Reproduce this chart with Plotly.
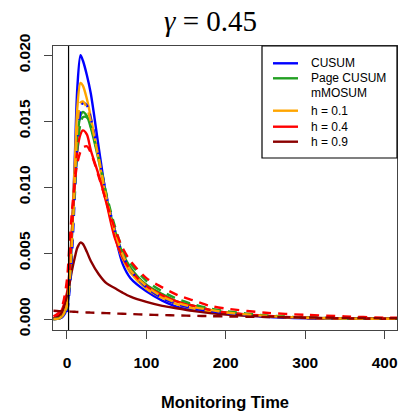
import plotly.graph_objects as go

# ---------------- data ----------------
x_pts = [-17, -10, -5, 0, 3, 6, 10, 13, 17, 20, 25, 30, 40, 50, 60, 70, 80, 100,
         120, 140, 160, 180, 200, 250, 300, 350, 400, 416]

cusum_solid = [0.0, 0.00003, 0.0002, 0.0008, 0.0025, 0.0060, 0.0125, 0.0175, 0.0200, 0.0196,
               0.0185, 0.0171, 0.0130, 0.0091, 0.0065, 0.0042, 0.0031, 0.0021,
               0.0014, 0.0009, 0.0007, 0.00055, 0.00042, 0.00018, 0.00006, 0.00002, 0.00001, 0.00001]
cusum_dash = [0.0, 0.00003, 0.0002, 0.0006, 0.0020, 0.0045, 0.0095, 0.0130, 0.0158, 0.0164,
              0.0162, 0.0152, 0.0124, 0.0093, 0.0068, 0.0049, 0.0037, 0.0024,
              0.0016, 0.0011, 0.0008, 0.0006, 0.00045, 0.0002, 0.00008, 0.00003, 0.00001, 0.00001]
page_solid = [0.0, 0.00005, 0.0003, 0.0010, 0.0028, 0.0060, 0.0108, 0.0138, 0.0154, 0.0157,
              0.0154, 0.0145, 0.0120, 0.0091, 0.0068, 0.0050, 0.0039, 0.0026,
              0.0019, 0.0013, 0.0010, 0.0007, 0.0005, 0.00022, 0.0001, 0.00004, 0.00002, 0.00002]
page_dash = [0.0, 0.00005, 0.0003, 0.0009, 0.0025, 0.0055, 0.0100, 0.0130, 0.0148, 0.0153,
             0.0153, 0.0146, 0.0122, 0.0094, 0.0071, 0.0053, 0.0042, 0.0029,
             0.0021, 0.0015, 0.0011, 0.0008, 0.0006, 0.00028, 0.00012, 0.00005, 0.00002, 0.00002]
h01_solid = [0.0, 0.00004, 0.0003, 0.0012, 0.0030, 0.0065, 0.0120, 0.0160, 0.0179, 0.0177,
             0.0167, 0.0153, 0.0121, 0.0089, 0.0064, 0.0046, 0.0035, 0.0023,
             0.0016, 0.0011, 0.0008, 0.0006, 0.00045, 0.0002, 0.00008, 0.00003, 0.00001, 0.00001]
h01_dash = [0.0, 0.00004, 0.0003, 0.0010, 0.0026, 0.0055, 0.0105, 0.0145, 0.0164, 0.0165,
            0.0160, 0.0150, 0.0122, 0.0091, 0.0067, 0.0049, 0.0037, 0.0025,
            0.0017, 0.0012, 0.0009, 0.0007, 0.0005, 0.00024, 0.0001, 0.00004, 0.00002, 0.00002]
h04_solid = [0.00005, 0.0003, 0.0009, 0.0020, 0.0035, 0.0065, 0.0105, 0.0128, 0.0140, 0.0143,
             0.0140, 0.0128, 0.0109, 0.0087, 0.0062, 0.0047, 0.0037, 0.0025,
             0.0018, 0.0013, 0.0010, 0.0007, 0.0005, 0.00025, 0.0001, 0.00005, 0.00002, 0.00002]
h04_dash = [0.0002, 0.0005, 0.0012, 0.0030, 0.0055, 0.0080, 0.0105, 0.0118, 0.0127, 0.0130,
            0.0131, 0.0126, 0.0108, 0.0088, 0.0069, 0.0054, 0.0044, 0.0031,
            0.0024, 0.0018, 0.0014, 0.0010, 0.0008, 0.00048, 0.00032, 0.0002, 0.0001, 0.0001]
h09_solid = [0.00005, 0.0002, 0.0007, 0.0018, 0.0026, 0.0036, 0.0047, 0.0054, 0.0058, 0.0057,
             0.0051, 0.0044, 0.0034, 0.0027, 0.00235, 0.0020, 0.0017, 0.0013,
             0.0010, 0.0008, 0.0006, 0.00045, 0.00035, 0.0002, 0.0001, 0.00005, 0.00003, 0.00003]
h09_dash = [0.00063, 0.0006, 0.0006, 0.00058, 0.00057, 0.00056, 0.00055, 0.00054, 0.00053, 0.00052,
            0.0005, 0.00049, 0.00047, 0.00045, 0.00042, 0.0004, 0.00038, 0.00033,
            0.0003, 0.00027, 0.00025, 0.00022, 0.0002, 0.00016, 0.00012, 0.00009, 0.00006, 0.00006]

change_point = 2
x_ticks = [0, 100, 200, 300, 400]
y_ticks = [0.000, 0.005, 0.010, 0.015, 0.020]
y_tick_labels = ["0.000", "0.005", "0.010", "0.015", "0.020"]

legend_labels = ["CUSUM", "Page CUSUM", "mMOSUM", "h = 0.1", "h = 0.4", "h = 0.9"]
legend_colors = ["#0000FF", "#22A022", None, "#FFA500", "#FF0000", "#8B0000"]

BLUE, GREEN, ORANGE, RED, DARKRED = "#0000FF", "#22A022", "#FFA500", "#FF0000", "#8B0000"
DASH = "9px,7px"

fig = go.Figure()

series = [
    (cusum_solid, BLUE, "solid"), (page_solid, GREEN, "solid"), (h01_solid, ORANGE, "solid"),
    (h04_solid, RED, "solid"), (h09_solid, DARKRED, "solid"),
    (cusum_dash, BLUE, DASH), (page_dash, GREEN, DASH), (h01_dash, ORANGE, DASH),
    (h04_dash, RED, DASH), (h09_dash, DARKRED, DASH),
]
for ys, col, dash in series:
    fig.add_trace(go.Scatter(x=x_pts, y=ys, mode="lines",
                             line=dict(color=col, width=2.4, dash=dash, shape="spline", smoothing=0.8),
                             showlegend=False, hoverinfo="skip"))

fig.add_vline(x=change_point, line=dict(color="black", width=1.2))

L, R, T, B = 53, 4, 46, 86
W, H = 401, 416
pw, ph = W - L - R, H - T - B

axis_common = dict(showline=True, mirror=True, linecolor="#444444", linewidth=1.2,
                   ticks="outside", ticklen=8, tickcolor="#444444", tickwidth=1.2,
                   showgrid=False, zeroline=False,
                   tickfont=dict(family="Liberation Sans, Arial", size=15.5, color="black", weight="bold"))

fig.update_layout(
    width=W, height=H,
    margin=dict(l=L, r=R, t=T, b=B),
    paper_bgcolor="white", plot_bgcolor="white",
    xaxis=dict(range=[-17.6, 415.6], tickvals=x_ticks, ticklabelstandoff=10, **axis_common),
    yaxis=dict(range=[-0.00083, 0.0207], tickvals=y_ticks, ticktext=y_tick_labels,
               tickangle=-90, ticklabelstandoff=8, **axis_common),
)

# title
fig.add_annotation(text="<i>γ</i> = 0.45", xref="paper", yref="paper",
                   x=(210 - L) / pw, y=1 + (T - 21) / ph, xanchor="center", yanchor="middle",
                   showarrow=False, font=dict(family="Liberation Serif", size=29, color="black"))
# x-axis title
fig.add_annotation(text="<b>Monitoring Time</b>", xref="paper", yref="paper",
                   x=0.5, y=-(402 - (T + ph)) / ph, xanchor="center", yanchor="middle",
                   showarrow=False, font=dict(family="Liberation Sans, Arial", size=16.5, color="black"))

# manual legend (R-style box)
def px_x(p):
    return (p - L) / pw

def px_y(p):
    return 1 - (p - T) / ph

fig.add_shape(type="rect", xref="paper", yref="paper",
              x0=px_x(262), x1=px_x(397), y0=px_y(158), y1=px_y(46),
              line=dict(color="black", width=1.2), fillcolor="white", layer="above")
leg_y = [63.3, 78.3, 93.3, 110.7, 126.7, 141.7]
for lab, col, yy in zip(legend_labels, legend_colors, leg_y):
    if col is not None:
        fig.add_shape(type="line", xref="paper", yref="paper",
                      x0=px_x(273), x1=px_x(298), y0=px_y(yy), y1=px_y(yy),
                      line=dict(color=col, width=2.4), layer="above")
    fig.add_annotation(text=lab, xref="paper", yref="paper", x=px_x(309), y=px_y(yy),
                       xanchor="left", yanchor="middle", showarrow=False,
                       font=dict(family="Liberation Sans, Arial", size=12, color="black"))

fig.write_html("out.html")
